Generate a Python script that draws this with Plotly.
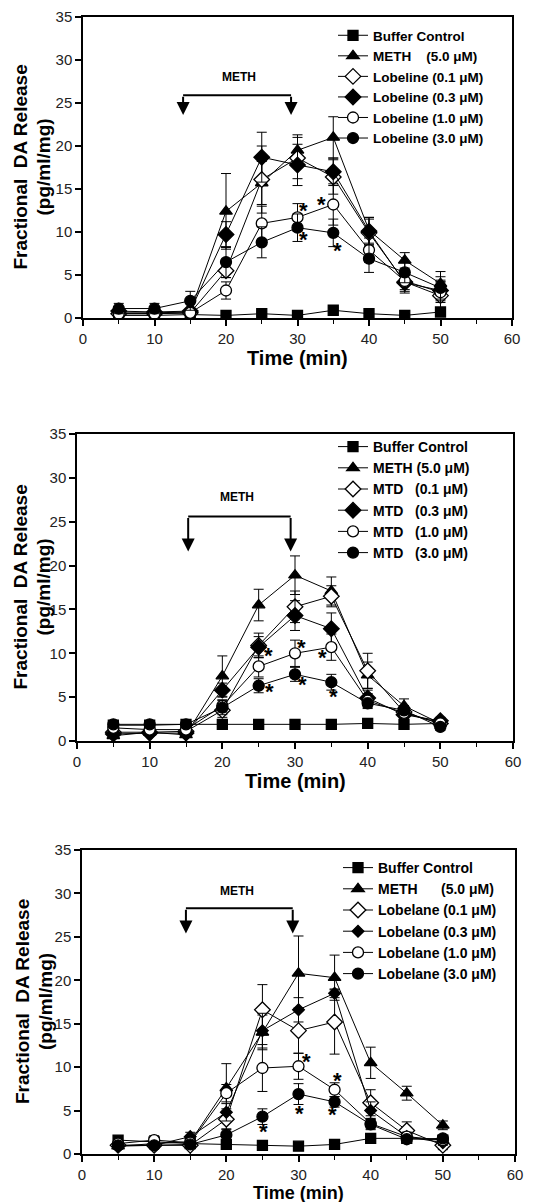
import plotly.graph_objects as go

# ---------------- data ----------------
time_min = [5, 10, 15, 20, 25, 30, 35, 40, 45, 50]

# Panel A : Lobeline
a_names = ["Buffer Control", "METH\u00a0\u00a0\u00a0\u00a0(5.0 \u03bcM)", "Lobeline (0.1 \u03bcM)",
           "Lobeline (0.3 \u03bcM)", "Lobeline (1.0 \u03bcM)", "Lobeline (3.0 \u03bcM)"]
a_buffer = [0.3, 0.3, 0.4, 0.3, 0.5, 0.3, 0.9, 0.5, 0.3, 0.7]
a_meth = [0.6, 0.6, 0.7, 12.4, 15.7, 19.5, 21.0, 10.2, 6.7, 4.0]
a_l01 = [0.5, 0.5, 0.6, 5.5, 16.1, 18.6, 16.4, 9.9, 4.2, 2.6]
a_l03 = [0.8, 0.7, 0.8, 9.7, 18.7, 17.8, 17.0, 10.1, 4.1, 3.2]
a_l10 = [0.5, 0.5, 0.6, 3.2, 11.0, 11.7, 13.2, 7.9, 4.3, 3.0]
a_l30 = [1.1, 1.1, 2.0, 6.5, 8.8, 10.5, 9.9, 6.9, 5.3, 3.5]
a_buffer_err = [0.2, 0.2, 0.2, 0.2, 0.2, 0.2, 0.3, 0.2, 0.2, 0.3]
a_meth_err = [0.3, 0.3, 0.3, 4.4, 2.5, 1.8, 2.4, 1.5, 0.9, 1.4]
a_l01_err = [0.3, 0.3, 0.3, 0.8, 3.9, 2.4, 2.0, 1.6, 1.3, 1.6]
a_l03_err = [0.4, 0.4, 0.3, 1.5, 2.9, 2.4, 1.6, 1.6, 1.0, 1.2]
a_l10_err = [0.3, 0.3, 0.3, 1.0, 2.0, 1.6, 2.4, 1.4, 1.0, 1.2]
a_l30_err = [0.6, 0.6, 1.1, 1.8, 1.8, 1.6, 1.6, 1.6, 1.2, 1.3]
a_star_x = [30.8, 33.3, 30.9, 35.6]
a_star_y = [12.5, 13.2, 9.1, 7.8]

# Panel B : MTD
b_names = ["Buffer Control", "METH (5.0 \u03bcM)", "MTD\u00a0\u00a0\u00a0(0.1 \u03bcM)",
           "MTD\u00a0\u00a0\u00a0(0.3 \u03bcM)", "MTD\u00a0\u00a0\u00a0(1.0 \u03bcM)", "MTD\u00a0\u00a0\u00a0(3.0 \u03bcM)"]
b_buffer = [1.8, 1.8, 1.9, 1.9, 1.9, 1.9, 1.9, 2.0, 1.9, 2.0]
b_meth = [0.6, 1.0, 0.7, 7.4, 15.5, 18.9, 17.1, 7.5, 4.0, 2.0]
b_m01 = [1.0, 1.0, 1.1, 3.5, 10.9, 15.3, 16.5, 8.0, 3.3, 2.0]
b_m03 = [0.8, 0.9, 0.9, 5.8, 10.7, 14.3, 12.8, 4.9, 3.0, 2.3]
b_m10 = [1.5, 1.3, 1.3, 4.0, 8.5, 10.0, 10.7, 4.6, 3.2, 2.0]
b_m30 = [1.9, 1.9, 1.9, 3.8, 6.3, 7.6, 6.7, 4.3, 3.5, 1.6]
b_buffer_err = [0.15] * 10
b_meth_err = [0.3, 0.3, 0.3, 2.3, 1.8, 2.2, 1.6, 1.5, 0.8, 0.5]
b_m01_err = [0.3, 0.3, 0.3, 0.8, 1.4, 1.8, 1.2, 2.0, 0.7, 0.4]
b_m03_err = [0.3, 0.3, 0.3, 0.8, 1.2, 1.7, 1.8, 0.9, 0.5, 0.4]
b_m10_err = [0.3, 0.3, 0.3, 0.7, 1.2, 1.5, 1.5, 0.8, 0.5, 0.5]
b_m30_err = [0.3, 0.3, 0.3, 0.8, 0.8, 0.8, 0.9, 0.6, 0.5, 0.4]
b_star_x = [26.3, 30.9, 33.8, 26.5, 31.0, 35.3]
b_star_y = [9.7, 10.7, 9.5, 5.7, 6.4, 5.1]

# Panel C : Lobelane
c_names = ["Buffer Control", "METH\u00a0\u00a0\u00a0\u00a0\u00a0\u00a0(5.0 \u03bcM)", "Lobelane (0.1 \u03bcM)",
           "Lobelane (0.3 \u03bcM)", "Lobelane (1.0 \u03bcM)", "Lobelane (3.0 \u03bcM)"]
c_buffer = [1.6, 1.4, 1.2, 1.1, 1.0, 0.9, 1.1, 1.8, 1.8, 1.6]
c_meth = [0.9, 1.2, 1.4, 7.6, 14.0, 20.8, 20.3, 10.5, 7.0, 3.3]
c_b01 = [1.0, 1.0, 1.0, 4.0, 16.6, 14.2, 15.2, 5.9, 2.7, 1.0]
c_b03 = [0.9, 1.0, 2.0, 4.8, 14.2, 16.6, 18.5, 5.0, 2.0, 1.3]
c_b10 = [1.2, 1.6, 1.3, 7.0, 9.9, 10.1, 7.4, 3.5, 2.0, 1.6]
c_b30 = [1.0, 1.0, 1.1, 2.2, 4.3, 6.9, 6.0, 3.4, 1.7, 1.8]
c_buffer_err = [0.2] * 10
c_meth_err = [0.3, 0.4, 0.5, 2.8, 2.0, 4.3, 2.6, 1.8, 0.8, 0.5]
c_b01_err = [0.3, 0.4, 1.1, 1.2, 2.9, 2.6, 3.7, 1.5, 1.0, 0.5]
c_b03_err = [0.3, 0.3, 0.5, 1.0, 2.0, 1.4, 0.5, 1.0, 0.5, 0.3]
c_b10_err = [0.3, 0.5, 0.5, 1.0, 2.7, 1.5, 0.8, 0.6, 0.5, 0.4]
c_b30_err = [0.3, 0.3, 0.3, 0.7, 0.9, 1.2, 0.6, 0.6, 0.4, 0.3]
c_star_x = [31.1, 35.4, 25.1, 30.2, 34.7]
c_star_y = [10.6, 8.5, 2.6, 4.7, 4.5]

x_ticks = [0, 10, 20, 30, 40, 50, 60]
y_ticks = [0, 5, 10, 15, 20, 25, 30, 35]

# ---------------- layout geometry ----------------
# The page body has an 8px margin, so the figure is offset by 8px; positions below
# are given in page pixels and converted to figure-paper fractions.
OFF = 8
W, H = 549 - OFF, 1202 - OFF


def fx(px):
    return (px - OFF) / W


def fy(py):
    return 1 - (py - OFF) / H


panels = [
    dict(x0=83, x1=512, y0=17, y1=318,
         names=a_names, series=[a_buffer, a_meth, a_l01, a_l03, a_l10, a_l30],
         errs=[a_buffer_err, a_meth_err, a_l01_err, a_l03_err, a_l10_err, a_l30_err],
         stars=(a_star_x, a_star_y), small_dia=False,
         bracket=(14.0, 29.1, 25.9, 23.6), meth_txt=(21.8, 28.0),
         leg=dict(x=333, top=20, size=13.5), ytitle_x=(20, 43), xtitle_y=358, xt_size=20),
    dict(x0=77, x1=513, y0=434, y1=741,
         names=b_names, series=[b_buffer, b_meth, b_m01, b_m03, b_m10, b_m30],
         errs=[b_buffer_err, b_meth_err, b_m01_err, b_m03_err, b_m10_err, b_m30_err],
         stars=(b_star_x, b_star_y), small_dia=False,
         bracket=(15.3, 29.4, 25.6, 21.6), meth_txt=(22.0, 27.8),
         leg=dict(x=333, top=431, size=14), ytitle_x=(20, 43), xtitle_y=781, xt_size=20),
    dict(x0=82, x1=515, y0=850, y1=1154,
         names=c_names, series=[c_buffer, c_meth, c_b01, c_b03, c_b10, c_b30],
         errs=[c_buffer_err, c_meth_err, c_b01_err, c_b03_err, c_b10_err, c_b30_err],
         stars=(c_star_x, c_star_y), small_dia=True,
         bracket=(14.4, 29.2, 28.3, 25.4), meth_txt=(21.5, 30.3),
         leg=dict(x=338, top=852, size=14), ytitle_x=(22, 45), xtitle_y=1192.5, xt_size=18),
]

styles = [("square", "black", 10), ("triangle-up", "black", 11), ("diamond", "white", 12),
          ("diamond", "black", 12), ("circle", "white", 11), ("circle", "black", 11)]

FONT = "Liberation Sans, Arial, sans-serif"
fig = go.Figure()
annotations = []
shapes = []
layout = {}

for i, p in enumerate(panels):
    n = "" if i == 0 else str(i + 1)
    xa, ya = "x" + n, "y" + n
    legname = "legend" + n
    for j, (name, vals, err) in enumerate(zip(p["names"], p["series"], p["errs"])):
        sym, col, size = styles[j]
        if j == 3 and p["small_dia"]:
            size = 9
        fig.add_trace(go.Scatter(
            x=time_min, y=vals, name="<b>" + name + "</b>", mode="lines+markers",
            xaxis=xa, yaxis=ya, legend=legname,
            line=dict(color="black", width=1),
            marker=dict(symbol=sym, color=col, size=size, line=dict(color="black", width=1.3)),
            error_y=dict(type="data", array=err, visible=True, color="black", thickness=1, width=5),
        ))
    layout["xaxis" + n] = dict(
        domain=[fx(p["x0"]), fx(p["x1"])], anchor=ya, range=[0, 60], automargin=False,
        tickvals=x_ticks, ticks="outside", ticklen=6, tickwidth=1.5, tickcolor="black",
        minor=dict(tickvals=[5, 15, 25, 35, 45, 55], ticks="outside", ticklen=4,
                   tickwidth=1.2, tickcolor="black"),
        showline=True, linecolor="black", linewidth=1.5, mirror=True,
        showgrid=False, zeroline=False,
        tickfont=dict(family=FONT, size=15, color="#222"),
    )
    layout["yaxis" + n] = dict(
        domain=[fy(p["y1"]), fy(p["y0"])], anchor=xa, range=[0, 35], automargin=False,
        tickvals=y_ticks, ticks="outside", ticklen=6, tickwidth=1.5, tickcolor="black",
        showline=True, linecolor="black", linewidth=1.5, mirror=True,
        showgrid=False, zeroline=False,
        tickfont=dict(family=FONT, size=15, color="#222"),
    )
    layout[legname] = dict(
        x=fx(p["leg"]["x"]), y=fy(p["leg"]["top"]), xanchor="left", yanchor="top",
        bgcolor="rgba(0,0,0,0)", borderwidth=0, itemwidth=30,
        font=dict(family=FONT, size=p["leg"]["size"], color="black"),
        tracegroupgap=0,
    )
    # asterisks
    for sx, sy in zip(*p["stars"]):
        annotations.append(dict(x=sx, y=sy, xref=xa, yref=ya, text="<b>*</b>", showarrow=False,
                                font=dict(family=FONT, size=22, color="black")))
    # METH bracket
    bx0, bx1, by, btip = p["bracket"]
    shapes.append(dict(type="line", xref=xa, yref=ya, x0=bx0, x1=bx1, y0=by, y1=by,
                       line=dict(color="black", width=2)))
    for bx in (bx0, bx1):
        annotations.append(dict(x=bx, y=btip, ax=bx, ay=by, xref=xa, yref=ya, axref=xa, ayref=ya,
                                text="", showarrow=True, arrowhead=2, arrowsize=1.3,
                                arrowwidth=2, arrowcolor="black"))
    annotations.append(dict(x=p["meth_txt"][0], y=p["meth_txt"][1], xref=xa, yref=ya,
                            text="<b>METH</b>", showarrow=False,
                            font=dict(family=FONT, size=12, color="black")))
    # axis titles
    yc = fy((p["y0"] + p["y1"]) / 2)
    annotations.append(dict(x=fx(p["ytitle_x"][0]), y=yc, xref="paper", yref="paper",
                            text="<b>Fractional\u00a0\u00a0DA Release</b>", textangle=-90,
                            showarrow=False, xanchor="center", yanchor="middle",
                            font=dict(family=FONT, size=19, color="black")))
    annotations.append(dict(x=fx(p["ytitle_x"][1]), y=yc, xref="paper", yref="paper",
                            text="<b>(pg/ml/mg)</b>", textangle=-90,
                            showarrow=False, xanchor="center", yanchor="middle",
                            font=dict(family=FONT, size=19, color="black")))
    annotations.append(dict(x=fx((p["x0"] + p["x1"]) / 2), y=fy(p["xtitle_y"]),
                            xref="paper", yref="paper", text="<b>Time (min)</b>",
                            showarrow=False, xanchor="center", yanchor="middle",
                            font=dict(family=FONT, size=p["xt_size"], color="black")))

fig.update_layout(
    width=W, height=H, margin=dict(l=0, r=0, t=0, b=0, autoexpand=False),
    paper_bgcolor="white", plot_bgcolor="white",
    annotations=annotations, shapes=shapes, **layout,
)

fig.write_html("out.html")
